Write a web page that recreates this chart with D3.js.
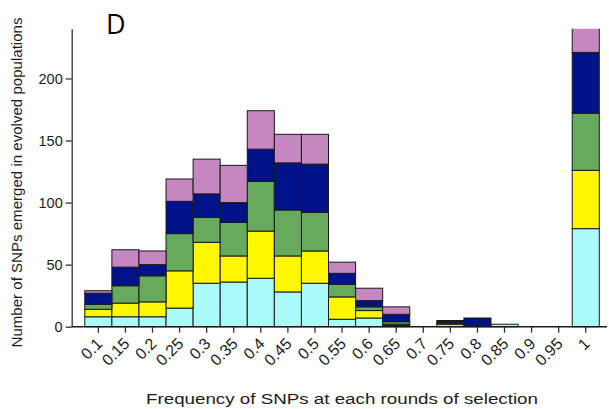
<!DOCTYPE html>
<html>
<head>
<meta charset="utf-8">
<script src="https://cdn.jsdelivr.net/npm/d3@7"></script>
<style>
  html, body { margin: 0; padding: 0; background: #fff; }
  svg { display: block; font-family: "Liberation Sans", Arial, sans-serif; }
</style>
</head>
<body>
<svg id="chart" width="609" height="409"></svg>
<script>
// Allele frequency bins (x categories)
const categories = ["0.1","0.15","0.2","0.25","0.3","0.35","0.4","0.45","0.5","0.55","0.6","0.65","0.7","0.75","0.8","0.85","0.9","0.95","1"];

// SNP counts per round of selection, stacked bottom to top
const round1 = [8, 8, 8, 15, 35, 36, 39, 28, 35, 6, 7, 1, 0, 0, 0, 2, 0, 0, 79];
const round2 = [6, 11, 12, 30, 33, 21, 38, 29, 26, 18, 6, 1, 0, 2, 0, 0, 0, 0, 47];
const round3 = [4, 14, 21, 30, 20, 27, 40, 37, 31, 10, 3, 2, 0, 1, 0, 0, 0, 0, 46];
const round4 = [9, 15, 9, 26, 19, 16, 26, 38, 39, 9, 5, 6, 0, 2, 7, 0, 0, 0, 49];
const round5 = [2, 14, 11, 18, 28, 30, 31, 23, 24, 9, 10, 6, 0, 0, 0, 0, 0, 0, 27];

const seriesKeys = ["round1", "round2", "round3", "round4", "round5"];
const seriesColors = ["#aafafa", "#fff700", "#66aa5e", "#001287", "#c587c0"];
const yTicks = [0, 50, 100, 150, 200];

const rows = categories.map((c, i) => ({
  bin: c,
  round1: round1[i], round2: round2[i], round3: round3[i],
  round4: round4[i], round5: round5[i]
}));

const svg = d3.select("#chart");
const textColor = "#1c1c1c";

const x = d3.scaleBand().domain(categories).range([84.8, 599.3]).padding(0);
const y = d3.scaleLinear().domain([0, 240]).range([326.7, 28.8]);

// Clip the bars to the plotting area (the last bin exceeds the axis)
svg.append("defs").append("clipPath").attr("id", "plot-clip")
  .append("rect")
  .attr("x", 72).attr("y", y(240))
  .attr("width", 540).attr("height", y(0) - y(240) + 2);

const stacked = d3.stack().keys(seriesKeys)(rows);

const barsG = svg.append("g").attr("clip-path", "url(#plot-clip)");
barsG.selectAll("g.layer")
  .data(stacked)
  .join("g")
  .attr("class", "layer")
  .attr("fill", (d, i) => seriesColors[i])
  .selectAll("rect")
  .data(d => d.filter(s => s[1] - s[0] > 0))
  .join("rect")
  .attr("x", d => x(d.data.bin))
  .attr("y", d => y(d[1]))
  .attr("width", x.bandwidth())
  .attr("height", d => y(d[0]) - y(d[1]))
  .attr("stroke", "#1a1a1a")
  .attr("stroke-width", 1);

// Y axis
const yAxis = svg.append("g")
  .attr("transform", "translate(71.7,0)")
  .call(d3.axisLeft(y).tickValues(yTicks).tickSize(6).tickSizeOuter(0).tickPadding(3));
yAxis.select(".domain").attr("stroke", "#333").attr("stroke-width", 1.3);
yAxis.selectAll(".tick line").attr("stroke", "#333").attr("stroke-width", 1.3);
yAxis.selectAll(".tick text")
  .attr("fill", textColor)
  .style("font-size", "14.5px");

// X axis
const xAxis = svg.append("g")
  .attr("transform", `translate(0,${y(0)})`)
  .call(d3.axisBottom(x).tickSize(6).tickSizeOuter(0));
xAxis.select(".domain").remove();
xAxis.selectAll(".tick line").attr("stroke", "#333").attr("stroke-width", 1.3);
xAxis.selectAll(".tick text")
  .attr("fill", textColor)
  .style("font-size", "16px")
  .attr("text-anchor", "end")
  .attr("dy", null)
  .attr("y", 0)
  .attr("transform", "translate(5,18) rotate(-45)");

svg.append("line")
  .attr("x1", 71.7).attr("x2", 607)
  .attr("y1", y(0)).attr("y2", y(0))
  .attr("stroke", "#1a1a1a").attr("stroke-width", 1.6);

// Axis titles
svg.append("text")
  .attr("transform", `translate(22,${(348 + 17) / 2}) rotate(-90)`)
  .attr("text-anchor", "middle")
  .attr("fill", textColor)
  .attr("textLength", 330)
  .attr("lengthAdjust", "spacingAndGlyphs")
  .style("font-size", "14.5px")
  .text("Number of SNPs emerged in evolved populations");

svg.append("text")
  .attr("x", 342).attr("y", 404)
  .attr("text-anchor", "middle")
  .attr("fill", textColor)
  .attr("textLength", 392)
  .attr("lengthAdjust", "spacingAndGlyphs")
  .style("font-size", "15.5px")
  .text("Frequency of SNPs at each rounds of selection");

// Panel letter
svg.append("text")
  .attr("x", 106).attr("y", 33.5)
  .attr("fill", "#000")
  .style("font-family", "'Open Sans', 'Liberation Sans', sans-serif")
  .style("font-size", "27px")
  .text("D");
</script>
</body>
</html>
